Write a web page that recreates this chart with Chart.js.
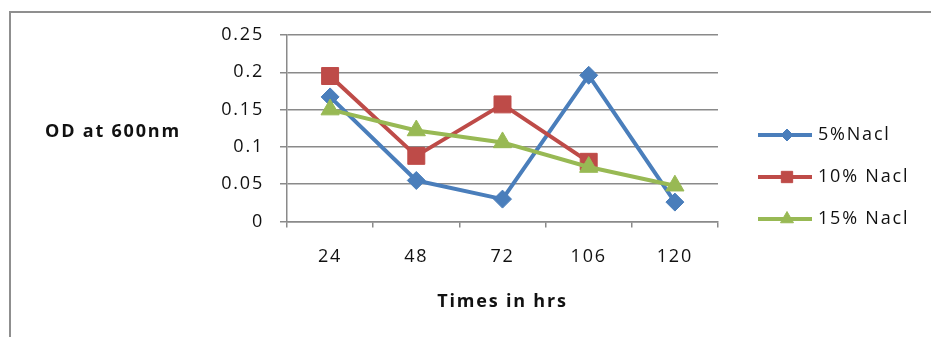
<!DOCTYPE html>
<html>
<head>
<meta charset="utf-8">
<script src="https://cdn.jsdelivr.net/npm/chart.js@4.4.1/dist/chart.umd.min.js"></script>
<style>
  html, body { margin: 0; padding: 0; background: #ffffff; }
  canvas { display: block; }
</style>
</head>
<body>
<canvas id="c" width="931" height="337"></canvas>
<script>
// Sampling times (hours)
const hours = ['24', '48', '72', '106', '120'];

// Optical density at 600 nm for each salt concentration
const nacl5 = [0.167, 0.055, 0.030, 0.196, 0.026];
const nacl10 = [0.195, 0.088, 0.157, 0.080, null];
const nacl15 = [0.150, 0.122, 0.106, 0.073, 0.048];

const seriesNames = ['5%Nacl', '10% Nacl', '15% Nacl'];
const yTickLabels = ['0', '0.05', '0.1', '0.15', '0.2', '0.25'];
const yTitle = 'OD at 600nm';
const xTitle = 'Times in hrs';

const FONT = '"Open Sans", "Liberation Sans", sans-serif';
const TEXT = '#111111';
const GRID = '#8a8a8a';
const SPACING = '1.8px';
const FSIZE = 18;

const colors = ['#4a7ebb', '#be4b48', '#98b954'];
const markers = ['rectRot', 'rect', 'triangle'];
const markerRadius = [9, 12, 10.5];
const legendRadius = [6, 8, 7.5];

// Outer frame, letter spacing for all text, horizontal y title and the line+marker legend
const framePlugin = {
  id: 'frame',
  beforeDraw(chart) {
    const ctx = chart.ctx;
    ctx.save();
    ctx.strokeStyle = '#8f8f8f';
    ctx.lineWidth = 2;
    ctx.strokeRect(10, 12, 1000, 400);
    ctx.restore();
    ctx.letterSpacing = SPACING;
  },
  afterDraw(chart) {
    const ctx = chart.ctx;
    ctx.save();
    ctx.letterSpacing = SPACING;
    ctx.fillStyle = TEXT;
    ctx.font = 'bold ' + FSIZE + 'px ' + FONT;
    ctx.textAlign = 'left';
    ctx.textBaseline = 'middle';
    ctx.fillText(yTitle, 45, 132);

    const rows = [135, 177, 219];
    chart.data.datasets.forEach((ds, i) => {
      const y = rows[i];
      ctx.strokeStyle = ds.borderColor;
      ctx.lineWidth = 4;
      ctx.beginPath();
      ctx.moveTo(758, y);
      ctx.lineTo(812, y);
      ctx.stroke();
      ctx.fillStyle = ds.backgroundColor;
      ctx.strokeStyle = ds.borderColor;
      ctx.lineWidth = 1;
      Chart.helpers.drawPoint(ctx, {
        pointStyle: ds.pointStyle,
        radius: legendRadius[i],
        rotation: 0,
        borderWidth: 1
      }, 787, y);
      ctx.fillStyle = TEXT;
      ctx.font = FSIZE + 'px ' + FONT;
      ctx.textAlign = 'left';
      ctx.textBaseline = 'middle';
      ctx.fillText(ds.label, 818, y);
    });
    ctx.restore();
  }
};

function makeDataset(i, values, order) {
  return {
    label: seriesNames[i],
    data: values,
    borderColor: colors[i],
    backgroundColor: colors[i],
    borderWidth: 4,
    tension: 0,
    spanGaps: false,
    borderJoinStyle: 'round',
    borderCapStyle: 'round',
    pointStyle: markers[i],
    pointRadius: markerRadius[i],
    pointBorderWidth: 1,
    pointHoverRadius: markerRadius[i],
    order: order
  };
}

const chart = new Chart(document.getElementById('c'), {
  type: 'line',
  data: {
    labels: hours,
    datasets: [
      makeDataset(0, nacl5, 2),
      makeDataset(1, nacl10, 1),
      makeDataset(2, nacl15, 0)
    ]
  },
  options: {
    responsive: false,
    animation: false,
    events: [],
    layout: { padding: { left: 0, top: 35, right: 213, bottom: 0 } },
    plugins: {
      legend: { display: false },
      tooltip: { enabled: false }
    },
    scales: {
      x: {
        offset: true,
        grid: {
          offset: true,
          drawOnChartArea: false,
          drawTicks: true,
          tickLength: 6,
          color: GRID,
          lineWidth: 1.5
        },
        border: { display: true, color: GRID, width: 1.5 },
        ticks: {
          padding: 19,
          color: TEXT,
          font: { family: FONT, size: FSIZE }
        },
        title: {
          display: true,
          text: xTitle,
          color: TEXT,
          font: { family: FONT, size: FSIZE, weight: 'bold' },
          padding: { top: 0, bottom: 24 }
        },
        afterFit(scale) { scale.height = 115.5; }
      },
      y: {
        min: 0,
        max: 0.25,
        grid: {
          color: GRID,
          lineWidth: 1.5,
          tickLength: 7
        },
        border: { display: true, color: GRID, width: 1.5 },
        ticks: {
          stepSize: 0.05,
          padding: 16,
          color: TEXT,
          font: { family: FONT, size: FSIZE },
          callback(value) {
            const idx = Math.round(value / 0.05);
            return yTickLabels[idx];
          }
        },
        afterFit(scale) { scale.width = 287; }
      }
    }
  },
  plugins: [framePlugin]
});
</script>
</body>
</html>
